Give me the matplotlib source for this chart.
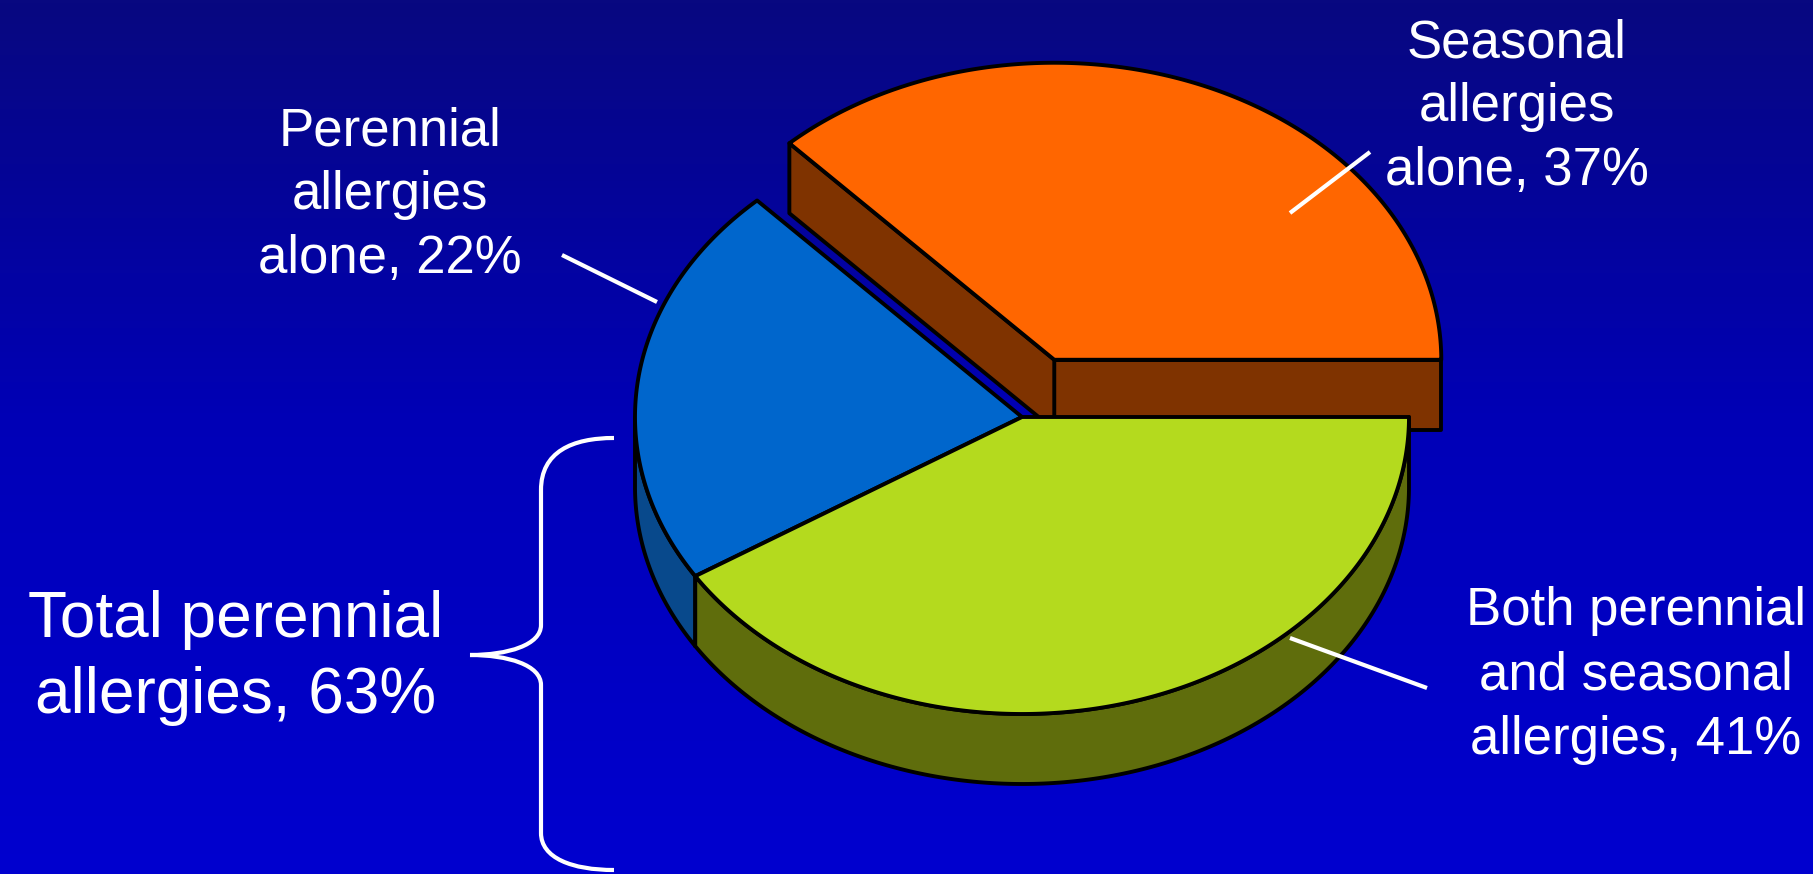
import numpy as np
import matplotlib

matplotlib.use("Agg")
import matplotlib.pyplot as plt
from matplotlib.colors import LinearSegmentedColormap
from matplotlib.patches import Polygon, PathPatch
from matplotlib.path import Path

# data
SLICES = ["Seasonal allergies alone", "Perennial allergies alone",
          "Both perennial and seasonal allergies"]
SHARES = [37, 22, 41]  # percent
EXPLODE = [0.21, 0.0, 0.0]
TOP_COLORS = ["#FF6600", "#0066CC", "#B4DA1E"]
SIDE_COLORS = ["#7F3300", "#08498C", "#5F6D0C"]

LABEL_LINES = [
    ["Seasonal", "allergies", "alone, 37%"],
    ["Perennial", "allergies", "alone, 22%"],
    ["Both perennial", "and seasonal", "allergies, 41%"],
]
TOTAL_LINES = ["Total perennial", "allergies, 63%"]

# layout (pixels, y downwards)
W, H = 1813, 874
CX, CY = 1022, 417
RX, RY = 387, 297
DEPTH = 70
LABEL_POS = [(1517, [57, 121, 185]), (390, [145, 209, 273]), (1636, [625, 690, 754])]
LEADERS = [((1290, 213), (1370, 152)), ((562, 255), (657, 302)), ((1290, 638), (1427, 688))]
TOTAL_POS = (236, [637, 713])
OUTLINE = dict(edgecolor="black", linewidth=2.8, joinstyle="round")


def ell(theta_deg, cx, cy, dy=0.0):
    t = np.radians(theta_deg)
    return np.column_stack([cx + RX * np.cos(t), cy - RY * np.sin(t) + dy])


def draw_slice(ax, a, b, cx, cy, top, side):
    # radial faces that turn toward the viewer
    for ang, visible in ((a, np.cos(np.radians(a)) > 0), (b, np.cos(np.radians(b)) < 0)):
        if visible:
            e = ell([ang], cx, cy)[0]
            quad = [(cx, cy), e, (e[0], e[1] + DEPTH), (cx, cy + DEPTH)]
            ax.add_patch(Polygon(quad, closed=True, facecolor=side, **OUTLINE))
    # outer wall, front half only
    lo, hi = max(a, 180), min(b, 360)
    if lo < hi:
        t = np.linspace(lo, hi, 200)
        wall = np.vstack([ell(t, cx, cy), ell(t[::-1], cx, cy, DEPTH)])
        ax.add_patch(Polygon(wall, closed=True, facecolor=side, **OUTLINE))
    # top face
    t = np.linspace(a, b, 300)
    face = np.vstack([[cx, cy], ell(t, cx, cy)])
    ax.add_patch(Polygon(face, closed=True, facecolor=top, **OUTLINE))


fig = plt.figure(figsize=(W / 100, H / 100), dpi=100)
ax = fig.add_axes([0, 0, 1, 1])
ax.set_xlim(0, W)
ax.set_ylim(H, 0)
ax.axis("off")

bg = LinearSegmentedColormap.from_list("bg", ["#080880", "#0000B8", "#0000CF"])
ax.imshow(np.linspace(0, 1, 256)[:, None], cmap=bg, extent=(0, W, H, 0),
          aspect="auto", zorder=0)

bounds = np.concatenate([[0], np.cumsum(SHARES)]) / sum(SHARES) * 360
order = sorted(range(len(SHARES)), key=lambda i: -EXPLODE[i])
for i in order:
    a, b = bounds[i], bounds[i + 1]
    mid = np.radians((a + b) / 2)
    cx = CX + EXPLODE[i] * RX * np.cos(mid)
    cy = CY - EXPLODE[i] * RY * np.sin(mid)
    draw_slice(ax, a, b, cx, cy, TOP_COLORS[i], SIDE_COLORS[i])

font = dict(family=["Liberation Sans", "DejaVu Sans"], color="white")
for lines, (x, ys) in zip(LABEL_LINES, LABEL_POS):
    for s, y in zip(lines, ys):
        ax.text(x, y, s, ha="center", va="baseline", fontsize=38, **font)
for (p0, p1) in LEADERS:
    ax.plot([p0[0], p1[0]], [p0[1], p1[1]], color="white", lw=3, solid_capstyle="butt")

for s, y in zip(TOTAL_LINES, TOTAL_POS[1]):
    ax.text(TOTAL_POS[0], y, s, ha="center", va="baseline", fontsize=46, **font)

# curly brace grouping the perennial slices
verts = [(614, 438), (572, 438), (541, 452), (541, 490),
         (541, 625),
         (541, 645), (508, 655), (470, 655),
         (508, 655), (541, 665), (541, 685),
         (541, 833),
         (541, 858), (572, 870), (614, 870)]
codes = [Path.MOVETO, Path.CURVE4, Path.CURVE4, Path.CURVE4,
         Path.LINETO,
         Path.CURVE4, Path.CURVE4, Path.CURVE4,
         Path.CURVE4, Path.CURVE4, Path.CURVE4,
         Path.LINETO,
         Path.CURVE4, Path.CURVE4, Path.CURVE4]
ax.add_patch(PathPatch(Path(verts, codes), facecolor="none", edgecolor="white",
                       lw=3, capstyle="butt"))

fig.savefig("out.png", dpi=100, facecolor="#0000B8")
